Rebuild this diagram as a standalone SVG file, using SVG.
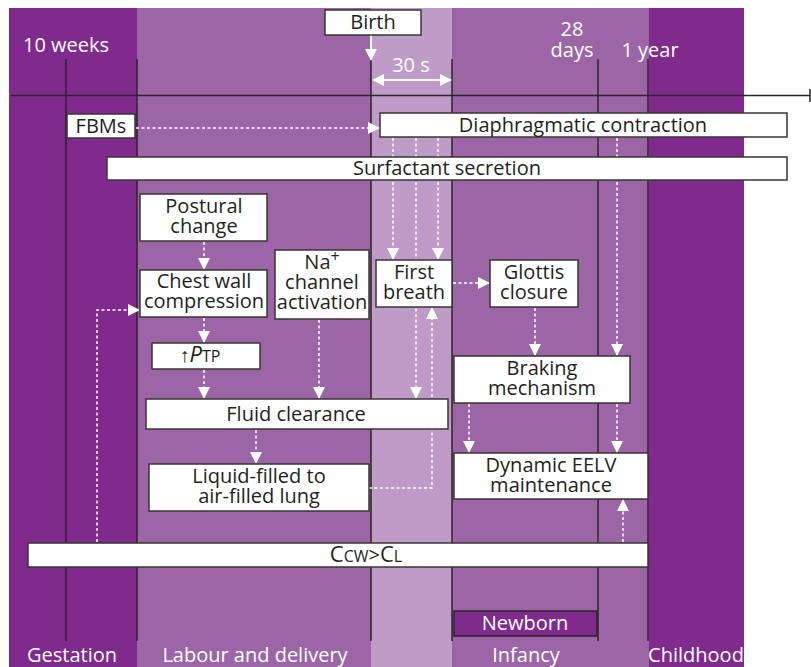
<svg xmlns="http://www.w3.org/2000/svg" width="811" height="667" viewBox="0 0 811 667">
<defs>
<style>
text{font-family:"Open Sans","Liberation Sans",sans-serif;font-size:20px;fill:#231f20;text-anchor:middle}
.w{fill:#fff}
.box{fill:#fff;stroke:#3a3535;stroke-width:1.5}
.ln{stroke:#2b2528;stroke-width:1.5;fill:none}
.d{stroke:#fff;stroke-width:1.5;stroke-dasharray:3 2.5;fill:none}
.s{stroke:#fff;stroke-width:2;fill:none}
.sub{font-size:16px}
</style>
<marker id="ah" viewBox="0 0 12 12" refX="11" refY="6" markerWidth="12" markerHeight="12" markerUnits="userSpaceOnUse" orient="auto">
<path d="M0,0 L12,6 L0,12 Z" fill="#fff"/>
</marker>
<marker id="ahs" viewBox="0 0 12 12" refX="1" refY="6" markerWidth="12" markerHeight="12" markerUnits="userSpaceOnUse" orient="auto">
<path d="M12,0 L0,6 L12,12 Z" fill="#fff"/>
</marker>
</defs>
<g id="background">
<rect x="9" y="8" width="128" height="659" fill="#7f2a8c"/>
<rect x="137" y="8" width="234" height="659" fill="#9c66a6"/>
<rect x="371" y="8" width="81" height="659" fill="#bf9cc7"/>
<rect x="452" y="8" width="197" height="659" fill="#9c66a6"/>
<rect x="649" y="8" width="95" height="659" fill="#7f2a8c"/>
<line class="ln" x1="66" y1="59" x2="66" y2="641"/>
<line class="ln" x1="137" y1="59" x2="137" y2="641"/>
<line class="ln" x1="371" y1="59" x2="371" y2="641"/>
<line class="ln" x1="452" y1="59" x2="452" y2="641"/>
<line class="ln" x1="598" y1="59" x2="598" y2="641"/>
<line class="ln" x1="648" y1="59" x2="648" y2="641"/>
<line class="ln" x1="11" y1="95.5" x2="810" y2="95.5"/>
<line class="ln" x1="810" y1="89" x2="810" y2="102"/>
<text class="w" x="66" y="52">10 weeks</text>
<text class="w" x="411" y="72">30 s</text>
<text class="w" x="572" y="36">28</text>
<text class="w" x="572" y="57">days</text>
<text class="w" x="650" y="57">1 year</text>
<text class="w" x="72" y="662">Gestation</text>
<text class="w" x="255" y="662">Labour and delivery</text>
<text class="w" x="526" y="662">Infancy</text>
<text class="w" x="696" y="662">Childhood</text>
</g>
<g id="connectors">
<line class="s" x1="371" y1="35" x2="371" y2="60" marker-end="url(#ah)"/>
<line class="s" x1="373" y1="80" x2="451" y2="80" marker-end="url(#ah)" marker-start="url(#ahs)"/>
<line class="d" x1="136" y1="128" x2="379" y2="128" marker-end="url(#ah)"/>
<line class="d" x1="393" y1="138" x2="393" y2="259" marker-end="url(#ah)"/>
<line class="d" x1="438" y1="138" x2="438" y2="259" marker-end="url(#ah)"/>
<line class="d" x1="416" y1="138" x2="416" y2="398" marker-end="url(#ah)"/>
<polyline class="d" points="369,488 432,488 432,308" marker-end="url(#ah)"/>
<line class="d" x1="453" y1="283" x2="489" y2="283" marker-end="url(#ah)"/>
<line class="d" x1="535" y1="308" x2="535" y2="355" marker-end="url(#ah)"/>
<line class="d" x1="617" y1="138" x2="617" y2="355" marker-end="url(#ah)"/>
<line class="d" x1="617" y1="404" x2="617" y2="452" marker-end="url(#ah)"/>
<line class="d" x1="469" y1="404" x2="469" y2="452" marker-end="url(#ah)"/>
<line class="d" x1="623" y1="542" x2="623" y2="500" marker-end="url(#ah)"/>
<line class="d" x1="204" y1="242" x2="204" y2="269" marker-end="url(#ah)"/>
<line class="d" x1="204" y1="318" x2="204" y2="342" marker-end="url(#ah)"/>
<line class="d" x1="204" y1="370" x2="204" y2="398" marker-end="url(#ah)"/>
<line class="d" x1="319" y1="320" x2="319" y2="398" marker-end="url(#ah)"/>
<line class="d" x1="256" y1="430" x2="256" y2="463" marker-end="url(#ah)"/>
<polyline class="d" points="97,542 97,310 139,310" marker-end="url(#ah)"/>
</g>
<g id="birth"><rect class="box" x="325" y="10" width="96" height="25"/><text x="373" y="29">Birth</text></g>
<g id="fbms"><rect class="box" x="67" y="114" width="68" height="24"/><text x="101" y="133">FBMs</text></g>
<g id="diaphragm"><rect class="box" x="380" y="113" width="407" height="24"/><text x="583" y="132">Diaphragmatic contraction</text></g>
<g id="surfactant"><rect class="box" x="107" y="157" width="680" height="23"/><text x="447" y="175">Surfactant secretion</text></g>
<g id="postural"><rect class="box" x="140" y="194" width="127" height="47"/><text x="204" y="213">Postural</text><text x="204" y="233">change</text></g>
<g id="chestwall"><rect class="box" x="140" y="270" width="127" height="47"/><text x="204" y="288">Chest wall</text><text x="204" y="308">compression</text></g>
<g id="na"><rect class="box" x="275" y="250" width="94" height="69"/><text x="322" y="269">Na<tspan class="sub" dy="-7">+</tspan></text><text x="322" y="289">channel</text><text x="322" y="309">activation</text></g>
<g id="ptp"><rect class="box" x="152" y="343" width="108" height="26"/><text x="200" y="362">↑<tspan font-style="italic" font-size="22">P</tspan><tspan class="sub">TP</tspan></text></g>
<g id="firstbreath"><rect class="box" x="376" y="260" width="76" height="47"/><text x="414" y="279">First</text><text x="414" y="299">breath</text></g>
<g id="glottis"><rect class="box" x="490" y="260" width="88" height="47"/><text x="534" y="279">Glottis</text><text x="534" y="299">closure</text></g>
<g id="braking"><rect class="box" x="454" y="356" width="176" height="47"/><text x="542" y="375">Braking</text><text x="542" y="395">mechanism</text></g>
<g id="fluid"><rect class="box" x="146" y="399" width="302" height="30"/><text x="296" y="421">Fluid clearance</text></g>
<g id="liquid"><rect class="box" x="149" y="464" width="220" height="47"/><text x="259" y="483">Liquid-filled to</text><text x="259" y="503">air-filled lung</text></g>
<g id="eelv"><rect class="box" x="454" y="453" width="194" height="46"/><text x="551" y="472">Dynamic EELV</text><text x="551" y="492">maintenance</text></g>
<g id="compliance"><rect class="box" x="28" y="543" width="620" height="24"/><text x="366" y="562"><tspan font-size="22">C</tspan><tspan class="sub">CW</tspan>&gt;<tspan font-size="22">C</tspan><tspan class="sub">L</tspan></text></g>
<g id="newborn"><rect x="454" y="611" width="143" height="25" fill="#7f2a8c" stroke="#2b2528" stroke-width="1.5"/><text class="w" x="525" y="630">Newborn</text></g>
</svg>
